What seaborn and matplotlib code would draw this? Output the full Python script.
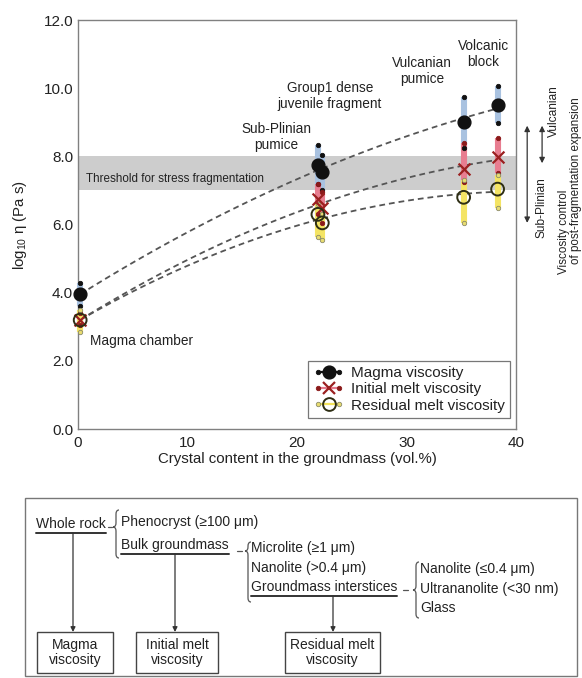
import numpy as np
import pandas as pd
import matplotlib
matplotlib.use("Agg")
import matplotlib.pyplot as plt
import seaborn as sns
from matplotlib.lines import Line2D
from matplotlib.legend_handler import HandlerLine2D, HandlerTuple
from matplotlib.path import Path
from matplotlib.patches import PathPatch, Rectangle

# ---- data -------------------------------------------------------------
samples = ["Magma chamber", "Sub-Plinian pumice", "Group1 dense juvenile fragment",
           "Vulcanian pumice", "Volcanic block"]
crystal = [0.2, 21.9, 22.3, 35.2, 38.3]

magma = [3.95, 7.74, 7.54, 9.00, 9.50]
magma_lo = [3.60, 7.20, 7.00, 8.25, 8.97]
magma_hi = [4.30, 8.33, 8.03, 9.75, 10.06]

initial = [3.20, 6.75, 6.50, 7.62, 7.98]
initial_lo = [3.05, 6.30, 6.05, 7.25, 7.50]
initial_hi = [3.40, 7.20, 6.95, 8.40, 8.55]

residual = [3.20, 6.30, 6.05, 6.80, 7.04]
residual_lo = [2.85, 5.65, 5.55, 6.05, 6.48]
residual_hi = [3.50, 6.60, 6.30, 7.30, 7.45]

threshold = (7.0, 8.0)

x_ticks = [0, 10, 20, 30, 40]
y_ticks = [0.0, 2.0, 4.0, 6.0, 8.0, 10.0, 12.0]

df = pd.DataFrame({
    "sample": samples * 3,
    "crystal": crystal * 3,
    "eta": magma + initial + residual,
    "lo": magma_lo + initial_lo + residual_lo,
    "hi": magma_hi + initial_hi + residual_hi,
    "kind": ["Magma viscosity"] * 5 + ["Initial melt viscosity"] * 5
            + ["Residual melt viscosity"] * 5,
})

# ---- style ------------------------------------------------------------
sns.set_style("white")
plt.rcParams["font.family"] = ["Liberation Sans", "DejaVu Sans"]
plt.rcParams["mathtext.fontset"] = "custom"
plt.rcParams["mathtext.rm"] = "Liberation Sans"
plt.rcParams["mathtext.it"] = "Liberation Sans:italic"
plt.rcParams["text.color"] = "#222222"

TXT = "#222222"
EDGE = "#808080"
styles = {
    "Magma viscosity": dict(bar="#a9c2e0", mk="o", mfc="#111111",
                            mec="#111111", ms=9.2, mew=1.0, endfc="#111111",
                            endec="#111111", lc="#111111"),
    "Initial melt viscosity": dict(bar="#e87d90", mk="x", mfc="#9b2020",
                                   mec="#9b2020", ms=8.5, mew=1.6, endfc="#8b1a1a",
                                   endec="#8b1a1a", lc="#e6798d"),
    "Residual melt viscosity": dict(bar="#f4e464", mk="o", mfc="none",
                                    mec="#2e2e14", ms=9.2, mew=1.4, endfc="#e8dc70",
                                    endec="#8a8a6a", lc="#f3e35a"),
}

fig = plt.figure(figsize=(5.82, 6.78), dpi=100)
ax = fig.add_axes([0.134, 0.367, 0.753, 0.6035])

# threshold band
ax.axhspan(*threshold, color="#cdcdcd", lw=0, zorder=0)
ax.text(0.7, 7.35, "Threshold for stress fragmentation", fontsize=8.4,
        va="center", ha="left", color=TXT, zorder=1)

# dashed second-order trend through each series
for kind, grp in df.groupby("kind", sort=False):
    sns.regplot(data=grp, x="crystal", y="eta", order=2, ci=None,
                scatter=False, ax=ax, truncate=True,
                line_kws=dict(color="#555555", lw=1.3,
                              linestyle=(0, (3.2, 2.2)), zorder=2))

# range bars with end points
for kind, grp in df.groupby("kind", sort=False):
    st = styles[kind]
    ax.vlines(grp["crystal"], grp["lo"], grp["hi"], color=st["bar"], lw=4.4,
              zorder=3, clip_on=False)
    ends = pd.DataFrame({"crystal": list(grp["crystal"]) * 2,
                         "eta": list(grp["lo"]) + list(grp["hi"])})
    sns.scatterplot(data=ends, x="crystal", y="eta", ax=ax, s=10,
                    color=st["endfc"], edgecolor=st["endec"], linewidth=0.6,
                    zorder=4, clip_on=False, legend=False)

# central values
for kind, grp in df.groupby("kind", sort=False):
    st = styles[kind]
    if st["mk"] == "x":
        sns.scatterplot(data=grp, x="crystal", y="eta", ax=ax, marker="x",
                        s=st["ms"] ** 2, color=st["mfc"], linewidth=st["mew"],
                        zorder=6, clip_on=False, legend=False)
    else:
        sns.scatterplot(data=grp, x="crystal", y="eta", ax=ax, marker="o",
                        s=st["ms"] ** 2, facecolor=st["mfc"], edgecolor=st["mec"],
                        linewidth=st["mew"], zorder=5 if st["mfc"] != "none" else 7,
                        clip_on=False, legend=False)

# sample labels
lab_kw = dict(fontsize=9.8, ha="center", va="center", color=TXT, linespacing=1.2)
ax.text(18.1, 8.56, "Sub-Plinian\npumice", **lab_kw)
ax.text(23.0, 9.77, "Group1 dense\njuvenile fragment", **lab_kw)
ax.text(31.4, 10.5, "Vulcanian\npumice", **lab_kw)
ax.text(37.0, 11.0, "Volcanic\nblock", **lab_kw)
ax.text(1.1, 2.6, "Magma chamber", fontsize=9.8, ha="left", va="center", color=TXT)

# axes formatting
ax.set_xlim(0, 40)
ax.set_ylim(0, 12)
ax.set_xticks(x_ticks)
ax.set_xticks(np.arange(0, 41, 2), minor=True)
ax.set_yticks(y_ticks)
ax.set_yticks(np.arange(0, 12.1, 1), minor=True)
ax.set_yticklabels([f"{v:.1f}" for v in y_ticks])
ax.tick_params(axis="both", which="both", direction="in", colors=EDGE,
               labelcolor=TXT, labelsize=11, top=False, right=False)
ax.tick_params(which="major", length=4, width=0.8)
ax.tick_params(which="minor", length=2.5, width=0.8)
ax.tick_params(axis="x", pad=5)
for sp in ax.spines.values():
    sp.set_color(EDGE)
    sp.set_linewidth(1.0)
ax.set_xlabel("Crystal content in the groundmass (vol.%)", fontsize=10.8,
              color=TXT, labelpad=1)
ax.set_ylabel("log$_{10}$ η (Pa s)", fontsize=10.8, color=TXT)
ax.yaxis.set_label_coords(-0.111, 0.5)

# legend: line with end dots and the central marker laid over it
hmap = {}
handles = []
for kind, st in styles.items():
    line = Line2D([], [], color=st["lc"], lw=1.6, marker="o", ms=3.2,
                  mfc=st["endfc"], mec=st["endec"], mew=0.6)
    mark = Line2D([], [], ls="none", marker=st["mk"], ms=st["ms"],
                  mfc=st["mfc"], mec=st["mec"] if st["mk"] == "o" else st["mfc"],
                  mew=st["mew"])
    tup = (line, mark)
    hmap[line] = HandlerLine2D(numpoints=2)
    hmap[mark] = HandlerLine2D(numpoints=1)
    hmap[tup] = HandlerTuple(ndivide=1, pad=0)
    handles.append(tup)
leg = ax.legend(handles, list(styles), handler_map=hmap, loc="lower right",
                bbox_to_anchor=(0.986, 0.027), borderaxespad=0, fontsize=11,
                frameon=True, fancybox=False, edgecolor="#555555",
                handlelength=2.0, handletextpad=0.45, labelspacing=0.15,
                borderpad=0.35)
leg.get_frame().set_linewidth(0.9)
leg.set_zorder(10)

# eruption-style arrows outside the frame
yt = ax.get_yaxis_transform()
arr = dict(arrowstyle="<|-|>", color="#333333", lw=0.9, mutation_scale=8,
           shrinkA=0, shrinkB=0)
ax.annotate("", xy=(1.025, 8.9), xytext=(1.025, 6.05), xycoords=yt,
            textcoords=yt, arrowprops=arr, annotation_clip=False)
ax.annotate("", xy=(1.059, 8.9), xytext=(1.059, 7.8), xycoords=yt,
            textcoords=yt, arrowprops=arr, annotation_clip=False)
ax.text(1.085, 9.33, "Vulcanian", transform=yt, rotation=90, fontsize=8.6,
        ha="center", va="center", color=TXT, clip_on=False)
ax.text(1.058, 6.5, "Sub-Plinian", transform=yt, rotation=90, fontsize=8.6,
        ha="center", va="center", color=TXT, clip_on=False)
ax.text(1.110, 5.8, "Viscosity control", transform=yt, rotation=90,
        fontsize=8.4, ha="center", va="center", color=TXT, clip_on=False)
ax.text(1.137, 7.3, "of post-fragmentation expansion", transform=yt,
        rotation=90, fontsize=8.4, ha="center", va="center", color=TXT,
        clip_on=False)

# ---- classification scheme (pixel coordinates) ------------------------
ov = fig.add_axes([0, 0, 1, 1])
ov.set_xlim(0, 582)
ov.set_ylim(678, 0)
ov.axis("off")
ov.patch.set_visible(False)

ov.add_patch(Rectangle((24.5, 498), 552.5, 178, fill=False, ec="#777777", lw=1.0))

fs = 10
def t(x, y, s, **kw):
    return ov.text(x, y, s, fontsize=fs, ha="left", va="center", color=TXT, **kw)

t_whole = t(36, 524, "Whole rock")
t(121, 522, "Phenocryst (≥100 μm)")
t_bulk = t(121, 545, "Bulk groundmass")
t(251, 548, "Microlite (≥1 μm)")
t(251, 568, "Nanolite (>0.4 μm)")
t_gi = t(251, 587, "Groundmass interstices")
t(420, 569, "Nanolite (≤0.4 μm)")
t(420, 589, "Ultrananolite (<30 nm)")
t(420, 608, "Glass")

def brace(x, y0, ym, y1, w=6, r=4):
    xm = x + w / 2
    verts = [(x + w, y0), (xm, y0), (xm, y0 + r),
             (xm, ym - r), (xm, ym), (x, ym),
             (xm, ym), (xm, ym + r),
             (xm, y1 - r), (xm, y1), (x + w, y1)]
    codes = [Path.MOVETO, Path.CURVE3, Path.CURVE3,
             Path.LINETO, Path.CURVE3, Path.CURVE3,
             Path.CURVE3, Path.CURVE3,
             Path.LINETO, Path.CURVE3, Path.CURVE3]
    ov.add_patch(PathPatch(Path(verts, codes), fill=False, ec="#555555", lw=0.9))

brace(113, 510, 527, 558)
brace(245, 542, 551, 602)
brace(413, 562, 590, 618)
for x0, x1, y in [(108, 112, 527), (237, 242, 551), (403, 408, 590)]:
    ov.plot([x0, x1], [y, y], color="#555555", lw=0.9)

for (x, y0, y1) in [(73, 533, 632), (175, 554, 632), (333, 596, 632)]:
    ov.annotate("", xy=(x, y1), xytext=(x, y0),
                arrowprops=dict(arrowstyle="-|>", color="#333333", lw=0.9,
                                mutation_scale=7, shrinkA=0, shrinkB=0))

for (x0, x1, label) in [(37, 113, "Magma\nviscosity"),
                        (136, 218, "Initial melt\nviscosity"),
                        (285, 380, "Residual melt\nviscosity")]:
    ov.add_patch(Rectangle((x0, 632), x1 - x0, 41, fill=False, ec="#444444", lw=1.0))
    ov.text((x0 + x1) / 2, 652.5, label, fontsize=fs, ha="center", va="center",
            color=TXT, linespacing=1.15)

# underline the grouping headings
fig.canvas.draw()
H = fig.get_figheight() * fig.dpi
for txt in (t_whole, t_bulk, t_gi):
    bb = txt.get_window_extent()
    yline = H - bb.y0 + 1.5
    ov.plot([bb.x0, bb.x1], [yline, yline], color="#333333", lw=1.4)

fig.savefig("out.png", dpi=100)
